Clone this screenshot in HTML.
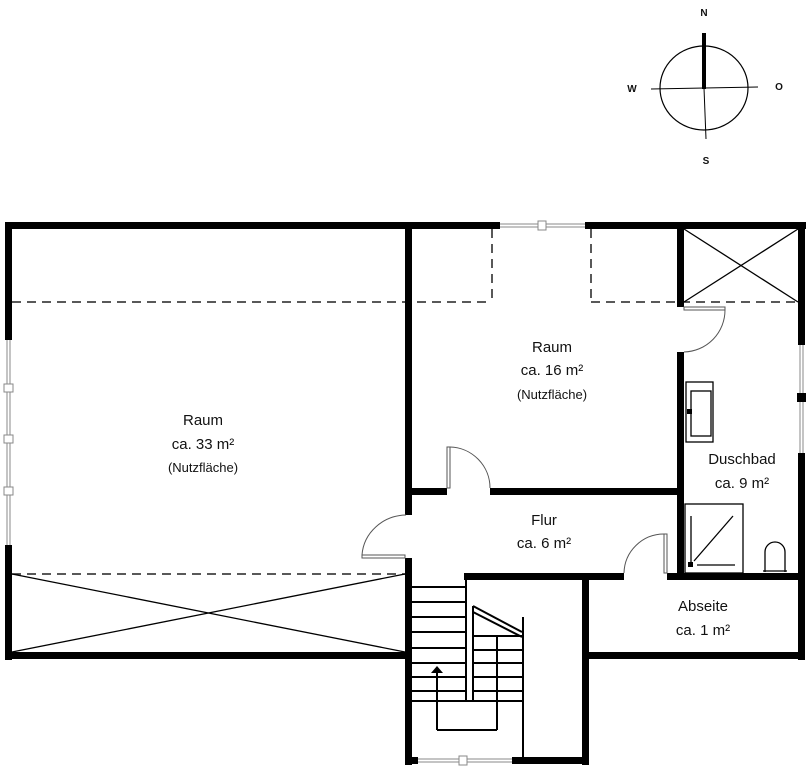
<!DOCTYPE html>
<html><head><meta charset="utf-8"><style>
html,body{margin:0;padding:0;background:#fff;}
svg{display:block;}
text{font-family:"Liberation Sans",sans-serif;fill:#111;}
</style></head><body>
<svg width="811" height="768" viewBox="0 0 811 768" xmlns="http://www.w3.org/2000/svg">
<!-- compass -->
<g stroke="#000" fill="none">
<ellipse cx="704" cy="88" rx="44" ry="42" stroke-width="1.2"/>
<line x1="651" y1="89" x2="758" y2="87" stroke-width="1"/>
<line x1="704" y1="88" x2="706" y2="139" stroke-width="1"/>
<line x1="704" y1="33" x2="704" y2="89" stroke-width="4"/>
</g>
<g font-size="10" font-weight="bold" text-anchor="middle">
<text x="704" y="16">N</text><text x="632" y="92">W</text><text x="779" y="90">O</text><text x="706" y="164">S</text>
</g>
<!-- dashed lines -->
<g stroke="#222" stroke-width="1.5" stroke-dasharray="9,6" fill="none">
<line x1="12" y1="302" x2="492" y2="302"/>
<line x1="492" y1="229" x2="492" y2="302"/>
<line x1="591" y1="229" x2="591" y2="302"/>
<line x1="591" y1="302" x2="798" y2="302"/>
<line x1="12" y1="574" x2="405" y2="574"/>
</g>
<g stroke="#000" stroke-width="1.3">
<line x1="12" y1="574" x2="405" y2="652"/><line x1="12" y1="652" x2="405" y2="574"/>
<line x1="684" y1="229" x2="798" y2="302"/><line x1="684" y1="302" x2="798" y2="229"/>
</g>
<!-- walls -->
<g fill="#000">
<rect x="5" y="222" width="495" height="7"/>
<rect x="585" y="222" width="221" height="7"/>
<rect x="5" y="222" width="7" height="118"/>
<rect x="5" y="545" width="7" height="115"/>
<rect x="5" y="652" width="407" height="7"/>
<rect x="405" y="229" width="7" height="286"/>
<rect x="405" y="558" width="7" height="207"/>
<rect x="412" y="488" width="35" height="7"/>
<rect x="490" y="488" width="194" height="7"/>
<rect x="677" y="222" width="7" height="85"/>
<rect x="677" y="352" width="7" height="228"/>
<rect x="798" y="222" width="7" height="123"/>
<rect x="798" y="453" width="7" height="207"/>
<rect x="464" y="573" width="160" height="7"/>
<rect x="667" y="573" width="138" height="7"/>
<rect x="582" y="573" width="7" height="192"/>
<rect x="582" y="652" width="223" height="7"/>
<rect x="405" y="757" width="13" height="7"/>
<rect x="512" y="757" width="77" height="7"/>
</g>
<!-- windows -->
<g stroke="#888" stroke-width="1" fill="#fff">
<line x1="500" y1="224" x2="585" y2="224"/><line x1="500" y1="227" x2="585" y2="227"/>
<rect x="538" y="221" width="8" height="9"/>
<line x1="7" y1="340" x2="7" y2="545"/><line x1="10" y1="340" x2="10" y2="545"/>
<rect x="4" y="384" width="9" height="8"/><rect x="4" y="435" width="9" height="8"/><rect x="4" y="487" width="9" height="8"/>
<line x1="800" y1="345" x2="800" y2="453"/><line x1="803" y1="345" x2="803" y2="453"/>
<line x1="418" y1="759" x2="512" y2="759"/><line x1="418" y1="762" x2="512" y2="762"/>
<rect x="459" y="756" width="8" height="9"/>
</g>
<rect x="797" y="393" width="9" height="9" fill="#000"/>
<!-- doors -->
<g stroke="#555" stroke-width="1" fill="none">
<rect x="362" y="555" width="43" height="3"/>
<path d="M362 555 A45 43 0 0 1 406 515"/>
<rect x="447" y="447" width="3" height="41"/>
<path d="M450 447 A41 41 0 0 1 490 488"/>
<rect x="684" y="307" width="41" height="3"/>
<path d="M725 310 A42 42 0 0 1 684 352"/>
<rect x="664" y="534" width="3" height="39"/>
<path d="M664 534 A40 40 0 0 0 624 573"/>
</g>
<!-- bath -->
<g stroke="#000" fill="none" stroke-width="1.3">
<rect x="686" y="382" width="27" height="60"/>
<rect x="691" y="391" width="20" height="45"/>
<rect x="685" y="504" width="58" height="69"/>
<line x1="691" y1="516" x2="691" y2="562"/>
<line x1="694" y1="561" x2="733" y2="516"/>
<line x1="697" y1="565" x2="735" y2="565"/>
<path d="M765 572 V552 A10 10 0 0 1 785 552 V572"/>
<line x1="763" y1="571" x2="787" y2="571"/>
</g>
<rect x="687" y="409" width="5" height="5" fill="#000"/>
<rect x="688" y="562" width="5" height="5" fill="#000"/>
<!-- stairs -->
<g stroke="#000" stroke-width="2" fill="none">
<line x1="466" y1="578" x2="466" y2="701"/>
<line x1="412" y1="587" x2="466" y2="587"/><line x1="412" y1="602" x2="466" y2="602"/>
<line x1="412" y1="617" x2="466" y2="617"/><line x1="412" y1="632" x2="466" y2="632"/>
<line x1="412" y1="648" x2="466" y2="648"/><line x1="412" y1="663" x2="466" y2="663"/>
<line x1="412" y1="677" x2="466" y2="677"/><line x1="412" y1="691" x2="466" y2="691"/>
<line x1="412" y1="701" x2="523" y2="701"/>
<line x1="473" y1="606" x2="473" y2="701"/>
<line x1="473" y1="606" x2="522" y2="632"/><line x1="473" y1="612" x2="522" y2="637"/>
<line x1="523" y1="617" x2="523" y2="757"/>
<line x1="473" y1="636" x2="523" y2="636"/><line x1="473" y1="650" x2="523" y2="650"/>
<line x1="473" y1="663" x2="523" y2="663"/><line x1="473" y1="677" x2="523" y2="677"/>
<line x1="473" y1="691" x2="523" y2="691"/>
<line x1="497" y1="636" x2="497" y2="730"/>
<line x1="437" y1="730" x2="497" y2="730"/>
<line x1="437" y1="672" x2="437" y2="730"/>
</g>
<polygon points="431,673 437,666 443,673" fill="#000"/>
<!-- labels -->
<g font-size="15" text-anchor="middle">
<text x="203" y="425">Raum</text><text x="203" y="449">ca. 33 m²</text>
<text x="203" y="472" font-size="13">(Nutzfläche)</text>
<text x="552" y="352">Raum</text><text x="552" y="375">ca. 16 m²</text>
<text x="552" y="399" font-size="13">(Nutzfläche)</text>
<text x="742" y="464">Duschbad</text><text x="742" y="488">ca. 9 m²</text>
<text x="544" y="525">Flur</text><text x="544" y="548">ca. 6 m²</text>
<text x="703" y="611">Abseite</text><text x="703" y="635">ca. 1 m²</text>
</g>
</svg>
</body></html>
